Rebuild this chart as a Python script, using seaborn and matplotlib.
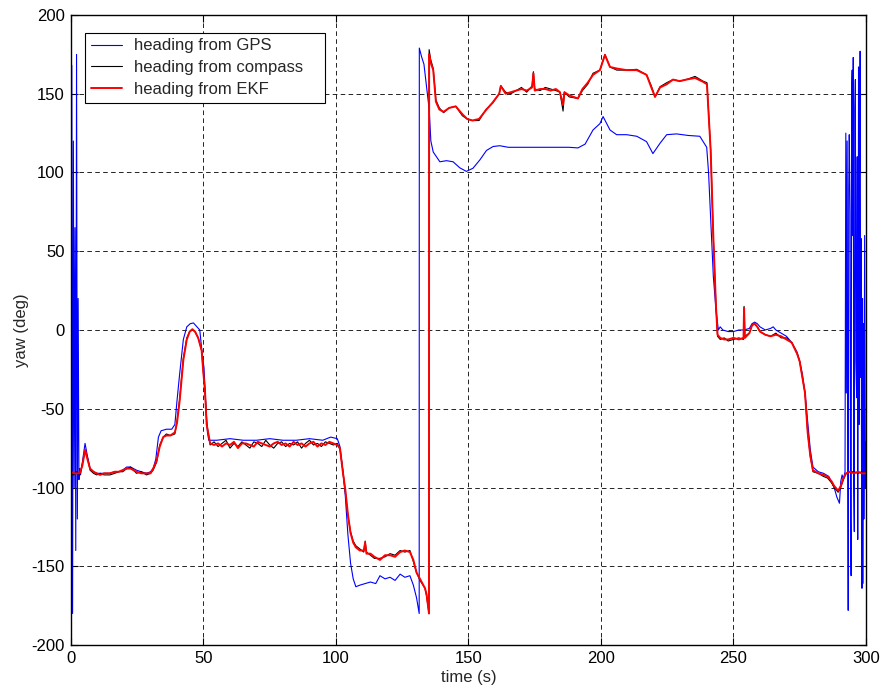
import pandas as pd
import matplotlib.pyplot as plt
import seaborn as sns

# time axis shared by compass and EKF headings (s)
t_comp = [0, 1, 2, 3.3, 4.3, 5.3, 6.2, 7.2, 8.5, 9.7,
          11, 12.5, 14.7, 16.5, 18, 19.5, 21, 22.5, 24.7, 26.5,
          28.5, 30, 31, 32.3, 33.5, 34.8, 36, 37.5, 39.2, 40,
          41, 42.4, 43.7, 44.8, 45.8, 46.8, 48, 49.3, 49.9, 50.6,
          51.2, 52.5, 54, 55.5, 57, 58.5, 60, 61.5, 63, 64.5,
          66, 67.5, 69, 70.5, 72, 73.5, 75, 76.5, 78, 79.5,
          81, 82.5, 84, 85.5, 87, 88.5, 90, 91.5, 93, 94.5,
          96, 97.5, 99, 100.5, 101.5, 102.5, 103.5, 104.5, 105.5, 106.5,
          107.5, 109, 110.5, 111, 111.5, 113, 114.5, 116.6, 118.5, 120.4,
          122.3, 124.2, 126, 127.9, 129.2, 130.4, 131.7, 133.6, 134.2, 135.1,
          135.15, 135.7, 136.7, 137.7, 139, 140.6, 142.7, 145.2, 147.7, 149.5,
          151.5, 154, 156.6, 159.1, 161.6, 162.2, 164, 166, 168, 170,
          172, 174, 174.5, 175, 177, 179, 181, 183, 184.5, 185.7,
          186.2, 188, 191.3, 193, 195, 197, 199.6, 201.5, 203.4, 206,
          209.7, 213.5, 217.2, 219, 220.4, 222.3, 224.8, 227.2, 229.7, 232.2,
          235.5, 238.5, 240, 241.4, 242.4, 243.4, 244, 245, 246.5, 248,
          250, 252, 253.8, 254, 254.3, 256, 257, 258, 259, 260,
          262, 264, 266, 268, 270, 272, 274, 275, 276, 277,
          278, 279, 280, 282, 284, 285.5, 287, 288, 289.5, 290.5,
          291.5, 292.5, 294, 295.5, 297, 298.5, 300]

compass_yaw = [-91, -92, -90, -92, -85, -77, -81, -89, -91, -92,
               -91, -92, -92, -91, -90, -90, -88, -87, -91, -90,
               -92, -91, -89, -84, -73, -68, -66, -67, -66, -58,
               -44, -18, -5, -1, 0, -1, -5, -13, -26, -39,
               -59, -73, -71, -74, -72, -70, -75, -72, -74, -71,
               -73, -75, -71, -72, -74, -70, -73, -75, -72, -71,
               -74, -72, -73, -71, -75, -72, -70, -73, -72, -74,
               -71, -72, -73, -72, -76, -88, -102, -118, -128, -134,
               -137, -139, -141, -134, -141, -143, -145, -145, -144, -142,
               -143, -140, -141, -140, -147, -154, -159, -164, -169, -180,
               178, 172, 166, 146, 141, 138, 141, 142, 136, 134,
               133, 133, 140, 144, 150, 155, 151, 150, 152, 154,
               151, 155, 164, 153, 152, 154, 153, 152, 151, 139,
               151, 148, 147, 152, 156, 163, 165, 175, 167, 165,
               165, 165.5, 162, 155, 148, 154.5, 157, 159, 158, 159,
               161, 158, 157, 114, 59, 15, -4, -6, -5, -7,
               -6, -5, -6, 15, -4, -2, 3, 4, 2, -1,
               -3, -4, -2, -5, -5, -8, -15, -20, -30, -40,
               -65, -80, -90, -91, -93, -94, -97, -100, -103, -100,
               -95, -91, -90, -90, -91, -90, -91]

ekf_yaw = [-90, -91, -91, -91, -86, -76, -82, -88, -90, -91,
           -92, -91, -91, -90, -90, -89, -88, -88, -90, -91,
           -91, -91, -88, -83, -74, -68, -67, -67, -65, -59,
           -45, -19, -6, -1, 0.5, -1, -5, -13, -26, -40,
           -60, -72, -73, -72, -74, -72, -73, -71, -75, -72,
           -72, -73, -74, -71, -72, -73, -74, -72, -71, -73,
           -72, -74, -71, -73, -72, -74, -72, -71, -74, -72,
           -73, -71, -72, -73, -75, -89, -101, -117, -129, -135,
           -138, -140, -140, -135, -142, -142, -144, -146, -143, -143,
           -144, -141, -140, -141, -146, -154, -158, -164, -168, -180,
           175, 170, 165, 145, 140, 138.5, 141, 142, 137, 134,
           133, 134, 139.6, 144.4, 150, 155, 150, 151, 152, 153,
           152, 154, 163, 152, 153, 153, 152, 153, 151, 143,
           151, 149, 147, 153, 157, 162, 165, 174.6, 167, 166,
           165, 165, 162, 154, 148, 154, 156, 159, 158, 159,
           160, 157.6, 156, 114, 59, 15, -3, -5, -6, -6,
           -5, -6, -5, 14, -5, -2, 3, 4, 2, -1,
           -3, -4, -3, -4, -6, -8, -15, -20, -30, -40,
           -65, -80, -89, -91, -92, -93, -96, -99, -102, -99,
           -94, -91, -90, -91, -90, -91, -91]

t_gps = [0, 0.3, 0.6, 0.9, 1.2, 1.5, 1.8, 2.1, 2.4, 2.7,
         3.0, 3.3, 3.6, 4.3, 5.3, 6.2, 7.2, 8.5, 9.7, 11,
         12.5, 14.7, 16.5, 18, 19.5, 21, 22.5, 24.7, 26.5, 28.5,
         30, 31, 32, 33, 34, 36, 38, 39.2, 40, 41,
         42.4, 43.7, 45, 46.2, 47, 48.6, 49.5, 50.2, 50.8, 51.5,
         52, 55, 60, 65, 70, 75, 80, 85, 90, 95,
         98, 100.5, 101.5, 102.5, 103.5, 104.5, 105.5, 106.5, 107.5, 109,
         111, 113, 115, 116.6, 118.5, 120.4, 122.3, 124.2, 126, 127.9,
         129.2, 130.4, 131.4, 131.45, 132.3, 133.2, 134.2, 135.2, 135.8, 136.7,
         139.2, 141.7, 144.2, 146.7, 149.2, 151.7, 154.3, 156.8, 159.3, 161.8,
         165, 170, 175, 180, 184.5, 188, 191.3, 194, 197, 199.6,
         200.8, 203.4, 205.9, 209.7, 213.5, 217.2, 219.6, 222.3, 224.8, 228.5,
         233, 237.3, 239.9, 240.6, 241.1, 242.4, 243.4, 244.3, 245, 246,
         248, 250, 252, 254, 256, 257, 258, 259, 260, 262,
         264, 265, 266, 268, 270, 272, 274, 275, 276, 277,
         278, 279, 280, 282, 284, 286, 288, 289, 290, 290.5,
         291, 291.5, 292.1, 292.4, 292.6, 292.9, 293.1, 293.3, 293.5, 293.7,
         294, 294.2, 294.4, 294.6, 294.8, 295, 295.2, 295.4, 295.6, 295.8,
         296, 296.2, 296.5, 296.7, 296.9, 297.1, 297.2, 297.4, 297.5, 297.7,
         297.8, 298, 298.2, 298.4, 298.5, 298.7, 298.8, 299, 299.2, 299.3,
         299.5, 299.6, 299.8, 300]

gps_yaw = [-60, 168, -180, 120, -100, 65, -140, 175, -120, 20,
           -95, -88, -92, -84, -72, -80, -88, -90, -91, -91,
           -91, -91, -90, -90, -89, -87, -87, -89, -90, -91,
           -90, -88, -82, -68, -64, -63, -63, -60, -45, -28,
           -6, 2, 4, 4.5, 3, 0, -15, -24, -45, -65,
           -70, -70, -69, -70, -70, -69, -70, -70, -69, -70,
           -68, -69, -74, -88, -105, -130, -148, -158, -163, -162,
           -161, -160, -161, -156, -158, -157, -159, -155, -157, -156,
           -162, -170, -180, 179, 173.5, 168.7, 154, 139.6, 120, 113,
           106.8, 107.5, 106.8, 103, 100.7, 102.7, 108, 114, 116.5, 117,
           116, 116, 116, 116, 116, 116, 115.6, 118, 127, 131,
           135.5, 127, 124, 124, 123, 119.6, 112, 118.6, 124, 124.5,
           123.5, 123, 116, 100, 82, 34, 13, 0, 2, 0,
           -1, -1, 0, 0, 1, 4, 5, 4, 2, 0,
           1, 2, 0, -2, -4, -8, -14, -20, -28, -40,
           -58, -76, -87, -90, -91, -93, -100, -106, -110, -96,
           -92, -95, -90, 125, -40, 120, -60, -178, 90, 124,
           75, -120, -156, 150, 165, 60, 173, -100, -128, 140,
           159, -20, -43, 110, -133, 40, 167, -60, 153, 100,
           177, -30, 58, -150, -164, 20, -161, 4, -120, -85,
           60, -1, -100, -71]

xticks = [0, 50, 100, 150, 200, 250, 300]
yticks = [-200, -150, -100, -50, 0, 50, 100, 150, 200]

gps = pd.DataFrame({'time': t_gps, 'yaw': gps_yaw})
comp = pd.DataFrame({'time': t_comp, 'compass': compass_yaw, 'ekf': ekf_yaw})

sns.set_style("ticks")
plt.rcParams['font.family'] = ['Liberation Sans', 'DejaVu Sans']
plt.rcParams['axes.unicode_minus'] = False
plt.rcParams['xtick.direction'] = 'in'
plt.rcParams['ytick.direction'] = 'in'

fig = plt.figure(figsize=(8.83, 6.94), dpi=100)
ax = fig.add_axes([0.0804, 0.0706, 0.9003, 0.9078])

sns.lineplot(data=gps, x='time', y='yaw', ax=ax, color=(0, 0, 1), lw=0.8,
             sort=False, estimator=None, label='heading from GPS')
sns.lineplot(data=comp, x='time', y='compass', ax=ax, color='black', lw=0.8,
             sort=False, estimator=None, label='heading from compass')
sns.lineplot(data=comp, x='time', y='ekf', ax=ax, color=(1, 0, 0), lw=1.4,
             sort=False, estimator=None, label='heading from EKF')

ax.set_xlim(0, 300)
ax.set_ylim(-200, 200)
ax.set_xticks(xticks)
ax.set_yticks(yticks)
ax.tick_params(labelsize=12, colors='black', length=5, width=0.8,
               top=True, right=True, pad=4.5)
ax.grid(True, color='black', linestyle=(0, (5.5, 4)), linewidth=0.6)
for s in ax.spines.values():
    s.set_color('black')
    s.set_linewidth(1.0)

ax.set_xlabel('time (s)', fontsize=12, labelpad=3)
ax.set_ylabel('yaw (deg)', fontsize=12, labelpad=2)

# legend box stretched to the width of the original
leg = ax.legend(loc='upper left', bbox_to_anchor=(0.0176, 0.862, 0.302, 0.11),
                mode='expand', borderaxespad=0, fancybox=False,
                edgecolor='black', framealpha=1, fontsize=12,
                handlelength=1.9, handletextpad=0.7, borderpad=0.35,
                labelspacing=0.4)
leg.get_frame().set_linewidth(0.8)

fig.savefig('out.png', dpi=100)
